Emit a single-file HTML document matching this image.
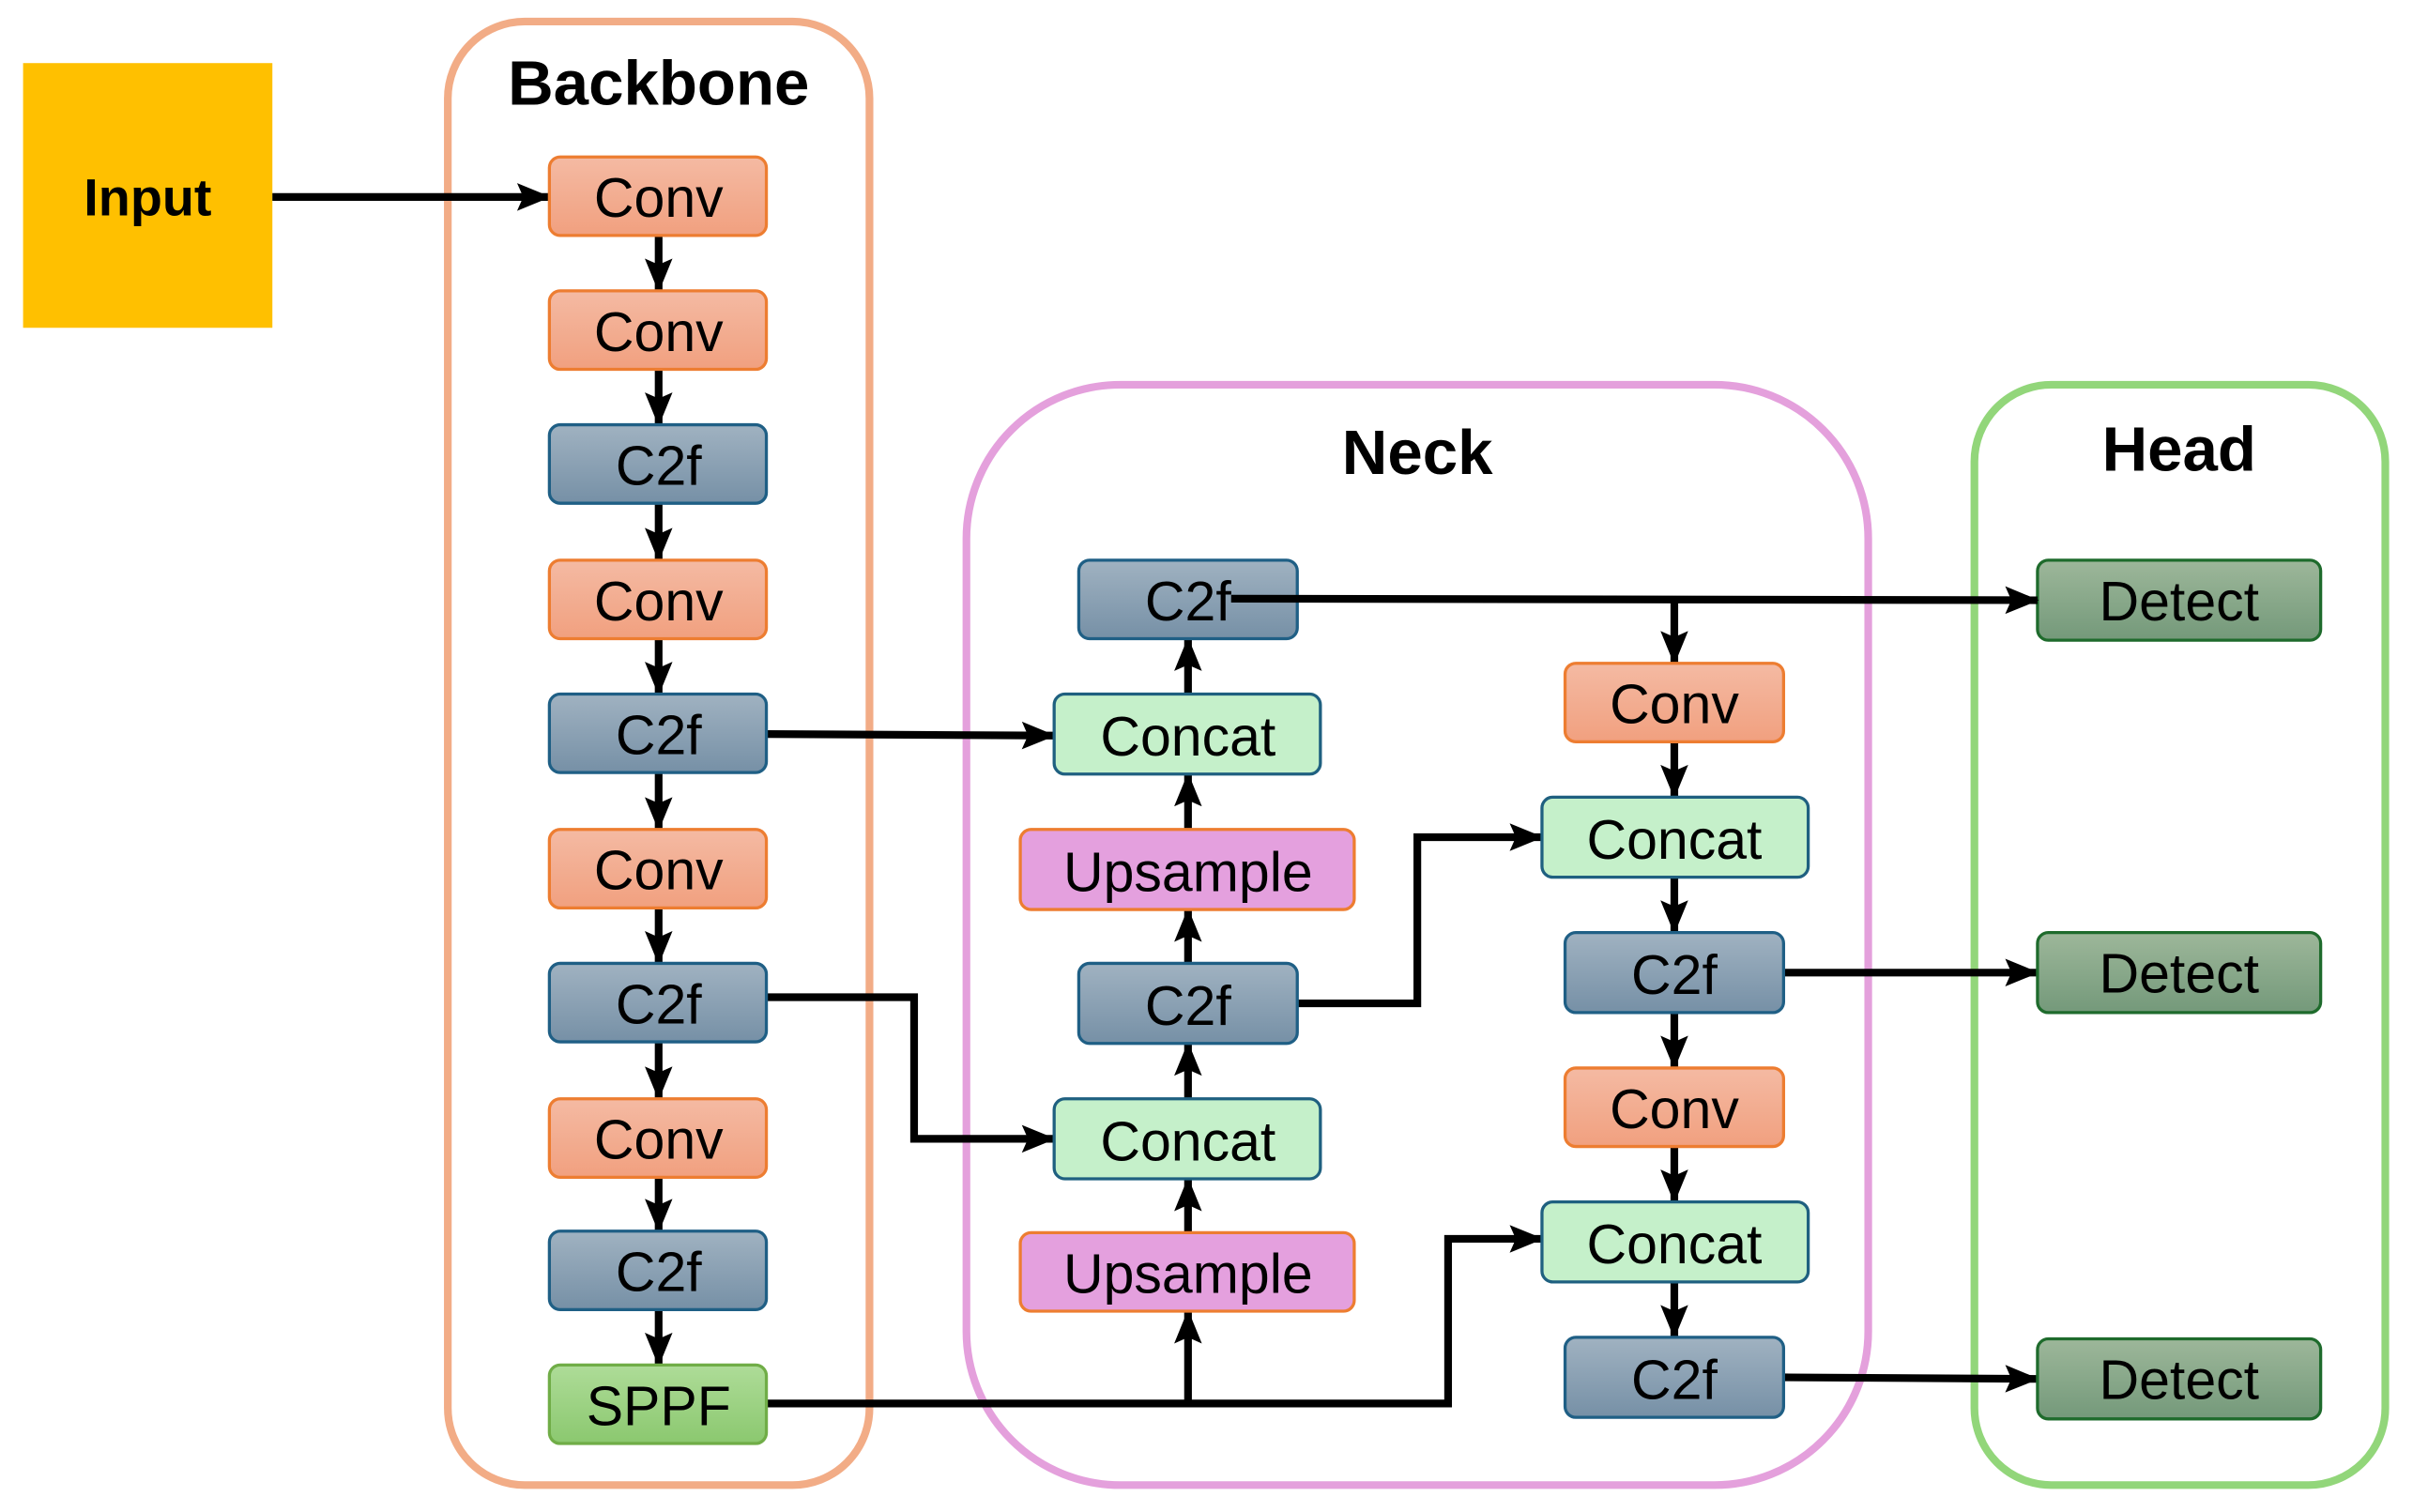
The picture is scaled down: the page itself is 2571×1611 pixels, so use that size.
<!DOCTYPE html>
<html><head><meta charset="utf-8"><style>
html,body{margin:0;padding:0;background:#fff;}
svg{display:block;}
text{font-family:"Liberation Sans",Arial,sans-serif;}
</style></head><body>
<svg width="2571" height="1611" viewBox="0 0 1568 982.5" preserveAspectRatio="none" xmlns="http://www.w3.org/2000/svg">
<defs>
<marker id="a" markerUnits="userSpaceOnUse" markerWidth="22" markerHeight="22" refX="21" refY="11" orient="auto"><path d="M0,2 L22,11 L0,20 L4,11 Z" fill="#000"/></marker>
<linearGradient id="gConv" x1="0" y1="0" x2="0" y2="1"><stop offset="0" stop-color="#F4BAA3"/><stop offset="1" stop-color="#F1A07F"/></linearGradient>
<linearGradient id="gC2f" x1="0" y1="0" x2="0" y2="1"><stop offset="0" stop-color="#A0B2C1"/><stop offset="1" stop-color="#7690A6"/></linearGradient>
<linearGradient id="gSPPF" x1="0" y1="0" x2="0" y2="1"><stop offset="0" stop-color="#AEDC98"/><stop offset="1" stop-color="#8BC86F"/></linearGradient>
<linearGradient id="gDet" x1="0" y1="0" x2="0" y2="1"><stop offset="0" stop-color="#9DB79A"/><stop offset="1" stop-color="#74997A"/></linearGradient>
</defs>
<rect width="1568" height="982.5" fill="#fff"/>
<rect x="291" y="14" width="274" height="951" rx="50" fill="none" stroke="#F2AC86" stroke-width="5"/>
<rect x="628" y="250" width="586" height="715" rx="100" fill="none" stroke="#E4A0DC" stroke-width="5"/>
<rect x="1283" y="250" width="267" height="715" rx="50" fill="none" stroke="#92D67A" stroke-width="5"/>
<g font-weight="bold" font-size="41" text-anchor="middle" fill="#000">
<text x="428" y="68">Backbone</text>
<text x="921" y="308">Neck</text>
<text x="1416" y="306">Head</text>
</g>
<rect x="15" y="41" width="162" height="172" fill="#FFC000"/>
<text x="96" y="140" font-weight="bold" font-size="34" text-anchor="middle">Input</text>

<g stroke="#000" stroke-width="5" fill="none">
<line x1="177" y1="128" x2="357" y2="128" marker-end="url(#a)"/>
<line x1="428" y1="153" x2="428" y2="189" marker-end="url(#a)"/>
<line x1="428" y1="240" x2="428" y2="276" marker-end="url(#a)"/>
<line x1="428" y1="327" x2="428" y2="364" marker-end="url(#a)"/>
<line x1="428" y1="415" x2="428" y2="451" marker-end="url(#a)"/>
<line x1="428" y1="502" x2="428" y2="539" marker-end="url(#a)"/>
<line x1="428" y1="590" x2="428" y2="626" marker-end="url(#a)"/>
<line x1="428" y1="677" x2="428" y2="714" marker-end="url(#a)"/>
<line x1="428" y1="765" x2="428" y2="800" marker-end="url(#a)"/>
<line x1="428" y1="851" x2="428" y2="887" marker-end="url(#a)"/>
<polyline points="498,477 685,478" marker-end="url(#a)"/>
<polyline points="498,648 594,648 594,740 685,740" marker-end="url(#a)"/>
<polyline points="498,912 941,912 941,805 1002,805" marker-end="url(#a)"/>
<line x1="772" y1="912" x2="772" y2="852" marker-end="url(#a)"/>
<line x1="772" y1="801" x2="772" y2="766" marker-end="url(#a)"/>
<line x1="772" y1="714" x2="772" y2="678" marker-end="url(#a)"/>
<line x1="772" y1="626" x2="772" y2="591" marker-end="url(#a)"/>
<line x1="772" y1="539" x2="772" y2="503" marker-end="url(#a)"/>
<line x1="772" y1="451" x2="772" y2="415" marker-end="url(#a)"/>
<polyline points="843,652 921,652 921,544 1002,544" marker-end="url(#a)"/>
<line x1="1088" y1="389" x2="1088" y2="431" marker-end="url(#a)"/>
<line x1="1088" y1="482" x2="1088" y2="518" marker-end="url(#a)"/>
<line x1="1088" y1="570" x2="1088" y2="606" marker-end="url(#a)"/>
<line x1="1088" y1="658" x2="1088" y2="694" marker-end="url(#a)"/>
<line x1="1088" y1="745" x2="1088" y2="781" marker-end="url(#a)"/>
<line x1="1088" y1="833" x2="1088" y2="869" marker-end="url(#a)"/>
<line x1="1159" y1="632" x2="1324" y2="632" marker-end="url(#a)"/>
<line x1="1159" y1="895" x2="1324" y2="896" marker-end="url(#a)"/>
</g>

<g stroke-width="2" font-size="36" text-anchor="middle">
<g stroke="#ED7D31" fill="url(#gConv)">
<rect x="357" y="102" width="141" height="51" rx="7"/>
<rect x="357" y="189" width="141" height="51" rx="7"/>
<rect x="357" y="364" width="141" height="51" rx="7"/>
<rect x="357" y="539" width="141" height="51" rx="7"/>
<rect x="357" y="714" width="141" height="51" rx="7"/>
<rect x="1017" y="431" width="142" height="51" rx="7"/>
<rect x="1017" y="694" width="142" height="51" rx="7"/>
</g>
<g stroke="#1F5F85" fill="url(#gC2f)">
<rect x="357" y="276" width="141" height="51" rx="7"/>
<rect x="357" y="451" width="141" height="51" rx="7"/>
<rect x="357" y="626" width="141" height="51" rx="7"/>
<rect x="357" y="800" width="141" height="51" rx="7"/>
<rect x="701" y="364" width="142" height="51" rx="7"/>
<rect x="701" y="626" width="142" height="52" rx="7"/>
<rect x="1017" y="606" width="142" height="52" rx="7"/>
<rect x="1017" y="869" width="142" height="52" rx="7"/>
</g>
<rect x="357" y="887" width="141" height="51" rx="7" stroke="#70AD47" fill="url(#gSPPF)"/>
<g stroke="#1F6080" fill="#C5F0CA">
<rect x="685" y="451" width="173" height="52" rx="7"/>
<rect x="685" y="714" width="173" height="52" rx="7"/>
<rect x="1002" y="518" width="173" height="52" rx="7"/>
<rect x="1002" y="781" width="173" height="52" rx="7"/>
</g>
<g stroke="#ED7D31" fill="#E4A0DE">
<rect x="663" y="539" width="217" height="52" rx="7"/>
<rect x="663" y="801" width="217" height="51" rx="7"/>
</g>
<g stroke="#1E6B2C" fill="url(#gDet)">
<rect x="1324" y="364" width="184" height="52" rx="7"/>
<rect x="1324" y="606" width="184" height="52" rx="7"/>
<rect x="1324" y="870" width="184" height="52" rx="7"/>
</g>
<g stroke="none" fill="#000">
<text x="428" y="141">Conv</text>
<text x="428" y="228">Conv</text>
<text x="428" y="315">C2f</text>
<text x="428" y="403">Conv</text>
<text x="428" y="490">C2f</text>
<text x="428" y="578">Conv</text>
<text x="428" y="665">C2f</text>
<text x="428" y="753">Conv</text>
<text x="428" y="839">C2f</text>
<text x="428" y="926">SPPF</text>
<text x="772" y="403">C2f</text>
<text x="772" y="491">Concat</text>
<text x="772" y="579">Upsample</text>
<text x="772" y="666">C2f</text>
<text x="772" y="754">Concat</text>
<text x="772" y="840">Upsample</text>
<text x="1088" y="470">Conv</text>
<text x="1088" y="558">Concat</text>
<text x="1088" y="646">C2f</text>
<text x="1088" y="733">Conv</text>
<text x="1088" y="821">Concat</text>
<text x="1088" y="909">C2f</text>
<text x="1416" y="403">Detect</text>
<text x="1416" y="645">Detect</text>
<text x="1416" y="909">Detect</text>
</g>
</g>
<g stroke="#000" stroke-width="5" fill="none">
<line x1="800" y1="389" x2="1324" y2="390" marker-end="url(#a)"/>
</g>
</svg>
</body></html>
